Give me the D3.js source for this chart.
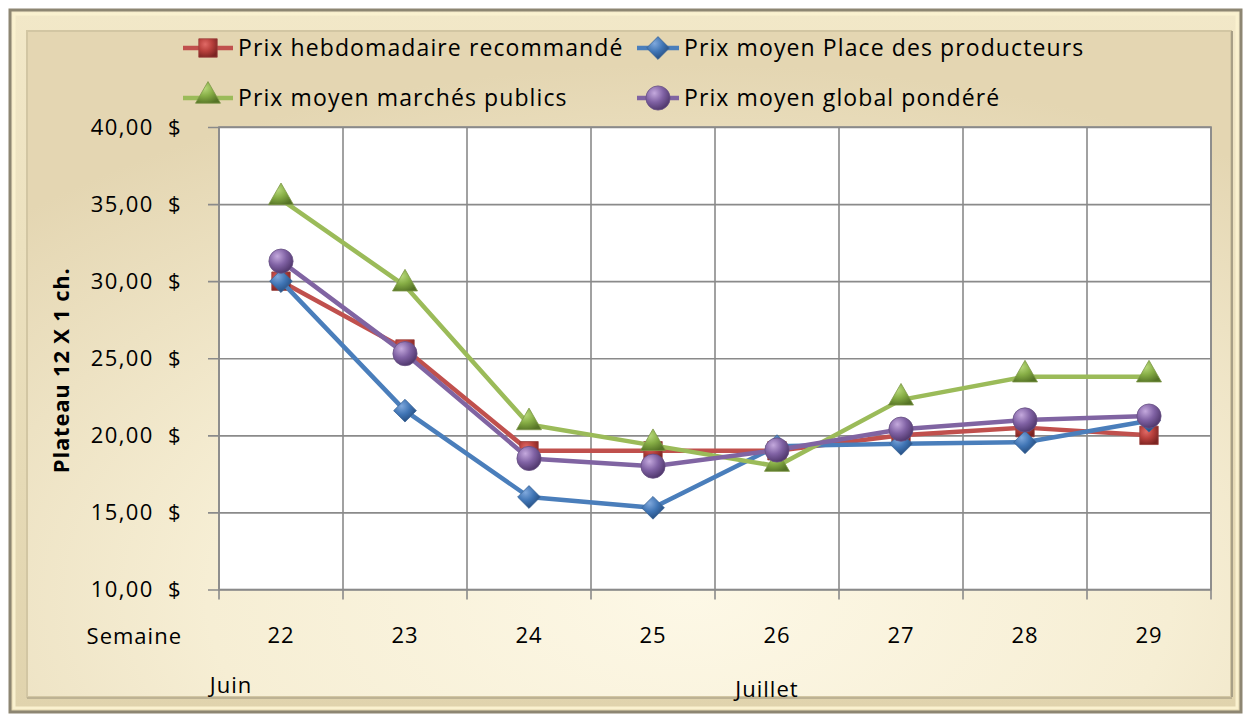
<!DOCTYPE html>
<html>
<head>
  <meta charset="utf-8">
  <title>Plateau 12 X 1 ch.</title>
  <style>
    body { margin: 0; background: #ffffff; }
    svg text { font-family: "Open Sans", "Lato", sans-serif; fill: #000; letter-spacing: 1px; }
  </style>
</head>
<body>
<div id="chart"></div>
<script src="https://d3js.org/d3.v7.min.js"></script>
<script>
// data
var weeks = ["22", "23", "24", "25", "26", "27", "28", "29"];
var yTicks = [10, 15, 20, 25, 30, 35, 40];
var seriesNames = ["Prix hebdomadaire recommandé", "Prix moyen Place des producteurs",
                   "Prix moyen marchés publics", "Prix moyen global pondéré"];
var prixRecommande = [30.0, 25.6, 19.0, 19.0, 19.0, 20.0, 20.5, 20.0];
var prixProducteurs = [30.0, 21.6, 16.0, 15.3, 19.3, 19.45, 19.55, 20.95];
var prixMarches = [35.3, 29.7, 20.7, 19.35, 18.0, 22.3, 23.8, 23.8];
var prixGlobal = [31.3, 25.3, 18.5, 18.0, 19.05, 20.4, 21.0, 21.25];
var months = [{ label: "Juin", week: "22" }, { label: "Juillet", week: "26" }];

var w = 1243, h = 714;
var plotL = 219, plotR = 1211, plotT = 127, plotB = 589.5;

var svg = d3.select("#chart").append("svg")
  .attr("width", w).attr("height", h);

var defs = svg.append("defs");

// frame gradients
var bg = defs.append("radialGradient").attr("id", "bg")
  .attr("cx", "0.55").attr("cy", "0.85").attr("r", "0.8");
bg.append("stop").attr("offset", "0").attr("stop-color", "#fdf8e6");
bg.append("stop").attr("offset", "0.5").attr("stop-color", "#f6eed4");
bg.append("stop").attr("offset", "1").attr("stop-color", "#e4d6b2");

var edge = defs.append("linearGradient").attr("id", "edge")
  .attr("x1", 0).attr("y1", 0).attr("x2", 0).attr("y2", 1);
edge.append("stop").attr("offset", "0").attr("stop-color", "#f2e8c8");
edge.append("stop").attr("offset", "1").attr("stop-color", "#e0d3ad");

// marker gradients
function markerGrad(id, light, mid, dark) {
  var g = defs.append("radialGradient").attr("id", id)
    .attr("cx", "0.35").attr("cy", "0.3").attr("r", "0.75");
  g.append("stop").attr("offset", "0").attr("stop-color", light);
  g.append("stop").attr("offset", "0.5").attr("stop-color", mid);
  g.append("stop").attr("offset", "1").attr("stop-color", dark);
}
markerGrad("gRed", "#e06a66", "#b8403c", "#7c2422");
markerGrad("gBlue", "#7fa8dc", "#3f74b4", "#23497a");
markerGrad("gGreen", "#b9da7c", "#86ad45", "#557326");
markerGrad("gPurple", "#c4a9dd", "#8062a4", "#4c3468");

// frame
svg.append("rect")
  .attr("x", 10).attr("y", 10).attr("width", 1231).attr("height", 702)
  .attr("fill", "url(#edge)").attr("stroke", "#8d8672").attr("stroke-width", 3);
svg.append("rect")
  .attr("x", 14).attr("y", 14).attr("width", 1223).attr("height", 694)
  .attr("fill", "none").attr("stroke", "#faf1cf").attr("stroke-width", 3);
svg.append("rect")
  .attr("x", 27).attr("y", 31).attr("width", 1204).attr("height", 666)
  .attr("fill", "url(#bg)").attr("stroke", "#d2c6a3").attr("stroke-width", 2);
svg.append("line")
  .attr("x1", 1232).attr("x2", 1232).attr("y1", 31).attr("y2", 697)
  .attr("stroke", "#a89f86").attr("stroke-width", 2);
svg.append("line")
  .attr("x1", 27).attr("x2", 1232).attr("y1", 698).attr("y2", 698)
  .attr("stroke", "#bdb293").attr("stroke-width", 2);

// scales
var x = d3.scaleBand().domain(weeks).range([plotL, plotR]).paddingInner(0).paddingOuter(0);
var y = d3.scaleLinear().domain([10, 40]).range([plotB, plotT]);
var cx = function (d, i) { return x(weeks[i]) + x.bandwidth() / 2; };

// plot area
svg.append("rect")
  .attr("x", plotL).attr("y", plotT).attr("width", plotR - plotL).attr("height", plotB - plotT)
  .attr("fill", "#ffffff");

// horizontal grid + y axis
var yAxis = d3.axisLeft(y).tickValues(yTicks).tickSize(-(plotR - plotL)).tickPadding(37)
  .tickFormat(function (d) { return d3.format(".2f")(d).replace(".", ",") + "  $"; });
var gy = svg.append("g").attr("transform", "translate(" + plotL + ",0)").call(yAxis);
gy.select(".domain").remove();
gy.selectAll(".tick line").attr("x1", -11).attr("stroke", "#8a8a8a").attr("stroke-width", 1.6);
gy.selectAll(".tick text")
  .attr("x", -37).attr("dy", "0.34em")
  .style("font-size", "22px").style("white-space", "pre").style("letter-spacing", "1.4px");

// vertical grid + x axis (ticks between categories)
var xEdges = weeks.map(function (d) { return x(d); }).concat([plotR]);
svg.selectAll(".vgrid").data(xEdges).enter().append("line")
  .attr("class", "vgrid")
  .attr("x1", function (d) { return d; }).attr("x2", function (d) { return d; })
  .attr("y1", plotT).attr("y2", plotB + 10)
  .attr("stroke", "#8a8a8a").attr("stroke-width", 1.6);
svg.append("rect")
  .attr("x", plotL).attr("y", plotT).attr("width", plotR - plotL).attr("height", plotB - plotT)
  .attr("fill", "none").attr("stroke", "#8a8a8a").attr("stroke-width", 1.6);

var xAxis = d3.axisBottom(x).tickSize(0).tickPadding(38);
var gx = svg.append("g").attr("transform", "translate(0," + plotB + ")").call(xAxis);
gx.select(".domain").remove();
gx.selectAll(".tick text").style("font-size", "22px");

svg.append("text").attr("x", 182).attr("y", 644).attr("text-anchor", "end")
  .style("font-size", "22px").text("Semaine");

svg.selectAll(".month").data(months).enter().append("text")
  .attr("class", "month")
  .attr("x", function (d, i) { return i === 0 ? x(d.week) + 12 : x(d.week) + 52; })
  .attr("y", function (d, i) { return i === 0 ? 693 : 697; })
  .attr("text-anchor", "middle")
  .style("font-size", "22px").text(function (d) { return d.label; });

// y axis title
svg.append("text")
  .attr("transform", "translate(69," + ((plotT + plotB) / 2 + 12) + ") rotate(-90)")
  .attr("text-anchor", "middle")
  .style("font-size", "22px").style("font-weight", "bold").style("letter-spacing", "0.8px")
  .text("Plateau 12 X 1 ch.");

// series
var series = [
  { name: seriesNames[0], values: prixRecommande, color: "#c0504d", grad: "gRed", shape: "square" },
  { name: seriesNames[1], values: prixProducteurs, color: "#4a7ebb", grad: "gBlue", shape: "diamond" },
  { name: seriesNames[2], values: prixMarches, color: "#9bbb59", grad: "gGreen", shape: "triangle" },
  { name: seriesNames[3], values: prixGlobal, color: "#8064a2", grad: "gPurple", shape: "circle" }
];

var symbols = {
  square: d3.symbol().type(d3.symbolSquare).size(340),
  diamond: d3.symbol().type(d3.symbolDiamond2).size(330),
  triangle: d3.symbol().type(d3.symbolTriangle).size(270),
  circle: d3.symbol().type(d3.symbolCircle).size(460)
};

var line = d3.line()
  .x(function (d, i) { return cx(d, i); })
  .y(function (d) { return y(d); });

series.forEach(function (s) {
  var g = svg.append("g");
  g.append("path")
    .datum(s.values)
    .attr("d", line)
    .attr("fill", "none")
    .attr("stroke", s.color)
    .attr("stroke-width", 4.5)
    .attr("stroke-linejoin", "round");
  g.selectAll("path.mk")
    .data(s.values)
    .enter()
    .append("path")
    .attr("class", "mk")
    .attr("d", symbols[s.shape])
    .attr("transform", function (d, i) {
      var dy = s.shape === "triangle" ? -2 : 0;
      return "translate(" + cx(d, i) + "," + (y(d) + dy) + ")";
    })
    .attr("fill", "url(#" + s.grad + ")")
    .attr("stroke", d3.color(s.color).darker(0.6))
    .attr("stroke-width", 0.8);
});

// legend
var legendPos = [[183, 48], [637, 48], [183, 98], [637, 98]];
series.forEach(function (s, i) {
  var p = legendPos[i];
  var lg = svg.append("g").attr("transform", "translate(" + p[0] + "," + p[1] + ")");
  var lw = i % 2 === 0 ? 50 : 42;
  lg.append("line").attr("x1", 0).attr("x2", lw).attr("y1", 0).attr("y2", 0)
    .attr("stroke", s.color).attr("stroke-width", 4.5);
  lg.append("path").attr("d", symbols[s.shape])
    .attr("transform", "translate(" + (lw / 2) + "," + (s.shape === "triangle" ? -2 : 0) + ")")
    .attr("fill", "url(#" + s.grad + ")")
    .attr("stroke", d3.color(s.color).darker(0.6)).attr("stroke-width", 0.8);
  lg.append("text").attr("x", lw + 5).attr("y", 8)
    .style("font-size", "23px").style("letter-spacing", "1.1px").text(s.name);
});
</script>
</body>
</html>
